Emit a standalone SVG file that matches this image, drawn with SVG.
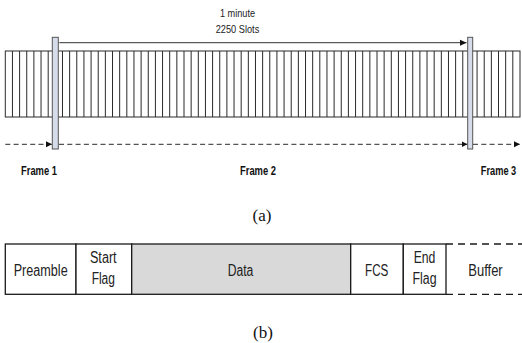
<svg xmlns="http://www.w3.org/2000/svg" width="522" height="343" viewBox="0 0 522 343">
<style>
.ln{stroke:#2a2a2a;stroke-width:1;fill:none}
.bar{fill:#d6dcea;stroke:#555;stroke-width:1}
.t{font-family:"Liberation Sans",Arial,sans-serif;fill:#222;text-anchor:middle}
.fb{font-family:"Liberation Sans",Arial,sans-serif;font-weight:bold;fill:#111;text-anchor:middle;font-size:12.5px}
.cap{font-family:"Liberation Serif","Times New Roman",serif;fill:#111;text-anchor:middle;font-size:17px}
.box{stroke:#1a1a1a;stroke-width:1.3;fill:#fff}
.bt{font-family:"Liberation Sans",Arial,sans-serif;fill:#222;text-anchor:middle;font-size:16px}
</style>
<defs>
<marker id="ah" markerWidth="8" markerHeight="8" refX="7" refY="4" orient="auto" markerUnits="userSpaceOnUse">
<path d="M0,0.8 L7,4 L0,7.2 Z" fill="#111"/>
</marker>
<marker id="ahs" markerWidth="8" markerHeight="8" refX="6" refY="3" orient="auto-start-reverse" markerUnits="userSpaceOnUse">
<path d="M0,0 L6,3 L0,6 Z" fill="#111"/>
</marker>
</defs>

<g id="slots">
<rect class="ln" x="5.3" y="51" width="514.7" height="66"/>
<path class="ln" d="M12.45,51V117M19.6,51V117M26.74,51V117M33.89,51V117M41.04,51V117M48.19,51V117M55.34,51V117M62.48,51V117M69.63,51V117M76.78,51V117M83.93,51V117M91.08,51V117M98.22,51V117M105.37,51V117M112.52,51V117M119.67,51V117M126.82,51V117M133.96,51V117M141.11,51V117M148.26,51V117M155.41,51V117M162.56,51V117M169.7,51V117M176.85,51V117M184,51V117M191.15,51V117M198.3,51V117M205.44,51V117M212.59,51V117M219.74,51V117M226.89,51V117M234.04,51V117M241.18,51V117M248.33,51V117M255.48,51V117M262.63,51V117M269.78,51V117M276.92,51V117M284.07,51V117M291.22,51V117M298.37,51V117M305.52,51V117M312.66,51V117M319.81,51V117M326.96,51V117M334.11,51V117M341.26,51V117M348.4,51V117M355.55,51V117M362.7,51V117M369.85,51V117M377,51V117M384.14,51V117M391.29,51V117M398.44,51V117M405.59,51V117M412.74,51V117M419.88,51V117M427.03,51V117M434.18,51V117M441.33,51V117M448.48,51V117M455.62,51V117M462.77,51V117M469.92,51V117M477.07,51V117M484.22,51V117M491.36,51V117M498.51,51V117M505.66,51V117M512.81,51V117"/>
</g>

<g id="connectors">
<line class="ln" x1="59.5" y1="42.7" x2="466.5" y2="42.7" marker-start="url(#ah)" marker-end="url(#ah)" style="stroke:#333"/>
<path class="ln" d="M5.3,144.3H52" stroke-dasharray="5,3.3" marker-end="url(#ahs)"/>
<path class="ln" d="M59,144.3H467.5" stroke-dasharray="5,3.3" marker-end="url(#ahs)"/>
<path class="ln" d="M473,144.3H520" stroke-dasharray="5,3.3" marker-end="url(#ahs)"/>
</g>

<g id="frame-bar-1"><rect class="bar" x="52.3" y="37.3" width="6" height="111.7"/></g>
<g id="frame-bar-2"><rect class="bar" x="467.7" y="37.3" width="5" height="111.7"/></g>

<g id="duration-label">
<text class="t" x="237.5" y="17.3" font-size="11.5" textLength="35" lengthAdjust="spacingAndGlyphs">1 minute</text>
<text class="t" x="237.5" y="33.3" font-size="11.5" textLength="43.6" lengthAdjust="spacingAndGlyphs">2250 Slots</text>
</g>

<g id="frame-labels">
<text class="fb" x="39" y="175" textLength="36" lengthAdjust="spacingAndGlyphs">Frame 1</text>
<text class="fb" x="258" y="175" textLength="36" lengthAdjust="spacingAndGlyphs">Frame 2</text>
<text class="fb" transform="translate(498.5,175) scale(0.74,1)" x="0" y="0">Frame 3</text>
</g>

<text class="cap" x="262" y="221">(a)</text>

<g id="preamble"><rect class="box" x="5.3" y="244" width="70.7" height="50.3"/>
<text class="bt" x="40.7" y="276" textLength="54" lengthAdjust="spacingAndGlyphs">Preamble</text></g>
<g id="start-flag"><rect class="box" x="76" y="244" width="55.7" height="50.3"/>
<text class="bt" x="103.3" y="263.3" textLength="26.7" lengthAdjust="spacingAndGlyphs">Start</text>
<text class="bt" x="103.3" y="283.5" textLength="23.3" lengthAdjust="spacingAndGlyphs">Flag</text></g>
<g id="data"><rect class="box" x="131.7" y="244" width="219" height="50.3" style="fill:#d9d9d9"/>
<text class="bt" x="240.5" y="276" textLength="25.6" lengthAdjust="spacingAndGlyphs">Data</text></g>
<g id="fcs"><rect class="box" x="350.7" y="244" width="52.6" height="50.3"/>
<text class="bt" x="376.7" y="276" textLength="23.3" lengthAdjust="spacingAndGlyphs">FCS</text></g>
<g id="end-flag"><rect class="box" x="403.3" y="244" width="42.7" height="50.3"/>
<text class="bt" x="424.5" y="263.3" textLength="21.7" lengthAdjust="spacingAndGlyphs">End</text>
<text class="bt" x="424.5" y="283.5" textLength="24" lengthAdjust="spacingAndGlyphs">Flag</text></g>
<g id="buffer">
<path d="M446,244H522M446,294.3H522" stroke="#1a1a1a" stroke-width="1.3" stroke-dasharray="7,5" fill="none"/>
<text class="bt" x="485.5" y="276" textLength="34.4" lengthAdjust="spacingAndGlyphs">Buffer</text></g>

<text class="cap" x="263" y="337.5">(b)</text>
</svg>
